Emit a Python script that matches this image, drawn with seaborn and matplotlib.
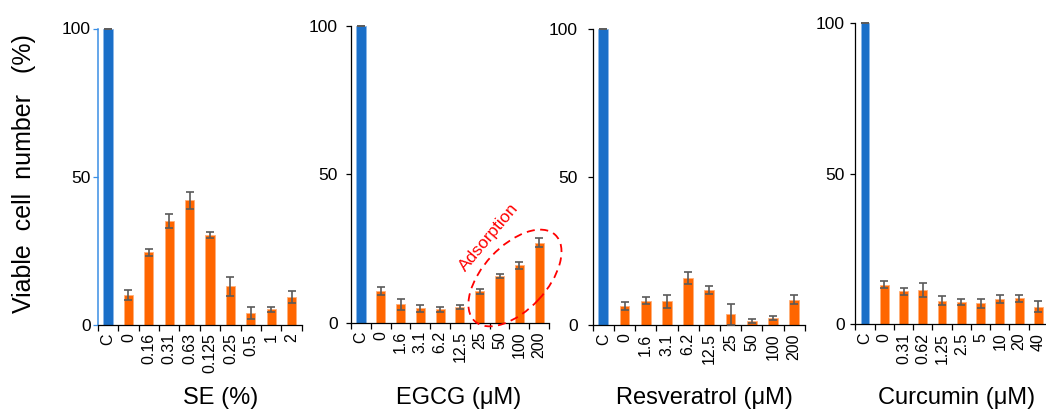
import numpy as np
import matplotlib
matplotlib.use("Agg")
import matplotlib.pyplot as plt
import matplotlib.transforms as mtransforms
from matplotlib.patches import Ellipse
import seaborn as sns

# ---------------- data ----------------
se_labels = ["C", "0", "0.16", "0.31", "0.63", "0.125", "0.25", "0.5", "1", "2"]
se_values = [100, 10.2, 24.6, 35.0, 42.0, 30.5, 13.0, 4.0, 5.3, 9.5]
se_errors = [0, 1.6, 1.2, 2.3, 3.0, 1.0, 3.2, 2.0, 0.8, 2.0]

egcg_labels = ["C", "0", "1.6", "3.1", "6.2", "12.5", "25", "50", "100", "200"]
egcg_values = [100, 10.6, 6.2, 4.8, 4.5, 5.4, 10.6, 15.8, 19.3, 26.9]
egcg_errors = [0, 1.3, 1.9, 1.3, 0.8, 0.7, 0.9, 0.6, 1.3, 1.5]

res_labels = ["C", "0", "1.6", "3.1", "6.2", "12.5", "25", "50", "100", "200"]
res_values = [100, 6.4, 8.2, 8.0, 15.9, 11.75, 3.6, 1.35, 2.35, 8.6]
res_errors = [0, 1.3, 1.1, 2.1, 2.1, 1.35, 3.6, 0.75, 0.65, 1.5]

cur_labels = ["C", "0", "0.31", "0.62", "1.25", "2.5", "5", "10", "20", "40"]
cur_values = [100, 13.2, 10.9, 11.5, 7.9, 7.5, 7.0, 8.4, 8.6, 5.8]
cur_errors = [0, 1.3, 1.2, 2.3, 1.45, 1.05, 1.45, 1.2, 1.05, 1.8]

x_titles = ["SE (%)", "EGCG (\u03bcM)", "Resveratrol (\u03bcM)", "Curcumin (\u03bcM)"]
y_title = "Viable  cell  number   (%)"
y_ticks = [0, 50, 100]
annotation_text = "Adsorption"

# ---------------- style ----------------
sns.set_style("ticks")
plt.rcParams["font.family"] = ["Liberation Sans", "DejaVu Sans"]
plt.rcParams.update({
    "text.color": "black",
    "axes.labelcolor": "black",
    "xtick.color": "black",
    "ytick.color": "black",
    "axes.edgecolor": "black",
    "axes.linewidth": 0.9,
})

BLUE = "#1a6fc8"
ORANGE = "#ff6600"
ERR = "#5a5a5a"

W, H = 1046, 409
fig = plt.figure(figsize=(W / 100, H / 100), dpi=100)

# axes boxes in pixels: left, top(y=100), right, bottom(y=0)
boxes = [
    (97.8, 28.5, 301.8, 325.0),
    (351.1, 26.0, 549.0, 322.7),
    (592.7, 29.3, 804.7, 325.0),
    (855.4, 23.3, 1048.0, 324.3),
]
ypads = [1.5, 6.0, 7.0, 4.0]
title_x = [221, 459, 704, 957]

panels = [
    (se_labels, se_values, se_errors),
    (egcg_labels, egcg_values, egcg_errors),
    (res_labels, res_values, res_errors),
    (cur_labels, cur_values, cur_errors),
]

axes = []
for i, ((labels, values, errors), (l, t, r, b)) in enumerate(zip(panels, boxes)):
    ax = fig.add_axes([l / W, 1 - b / H, (r - l) / W, (b - t) / H])
    axes.append(ax)
    colors = [BLUE] + [ORANGE] * (len(labels) - 1)
    sns.barplot(x=labels, y=values, hue=labels, palette=colors, legend=False,
                width=0.46, saturation=1, errorbar=None, ax=ax)
    for p, c in zip(ax.patches, colors):
        p.set_edgecolor("#ffb07a" if c == ORANGE else "#8ab8ea")
        p.set_linewidth(0.6)
    eb = ax.errorbar(np.arange(len(labels)), values, yerr=errors, fmt="none",
                     ecolor=ERR, elinewidth=1.2, capsize=3.0, capthick=1.2, zorder=5)
    for art in list(eb.lines[1]) + list(eb.lines[2]):
        art.set_clip_on(False)

    ax.set_xlim(-0.5, len(labels) - 0.5)
    ax.set_ylim(0, 100)
    ax.set_xlabel("")
    ax.set_ylabel("")
    sns.despine(ax=ax)

    ax.set_xticks(np.arange(len(labels)))
    ax.set_xticklabels(labels, rotation=90)
    ax.set_xticks(np.arange(-0.5, len(labels), 1.0), minor=True)
    ax.tick_params(axis="x", which="major", length=0, pad=6, labelsize=11.5)
    ax.tick_params(axis="x", which="minor", length=4, width=0.9, direction="out")

    ax.set_yticks(y_ticks)
    ax.set_yticklabels([str(v) for v in y_ticks])
    ax.tick_params(axis="y", which="major", length=3.5, width=0.9, direction="out",
                   pad=ypads[i], labelsize=12.5)
    ax.tick_params(axis="y", which="minor", length=0)

    fig.text(title_x[i] / W, 1 - 404 / H, x_titles[i], ha="center", va="baseline",
             fontsize=17)

# first panel: light-blue y axis
axes[0].spines["left"].set_color("#3a8ee4")
axes[0].spines["left"].set_linewidth(1.1)
axes[0].tick_params(axis="y", color="#3a8ee4", labelcolor="black")

# y-axis title
fig.text(24 / W, 1 - 173.5 / H, y_title, rotation=90, ha="center", va="center",
         fontsize=18)

# annotation on EGCG panel
ax2 = axes[1]
ax2.text(6.49, 28.7, annotation_text, rotation=50, ha="center", va="center",
         rotation_mode="anchor", color="red", fontsize=12.5, zorder=6)
ell = Ellipse((0, 0), 118, 64, angle=47,
              transform=mtransforms.ScaledTranslation(7.78, 15.07, ax2.transData),
              fill=False, edgecolor="red", linewidth=1.3, linestyle=(0, (4.5, 3)),
              clip_on=False, zorder=6)
ax2.add_artist(ell)

fig.savefig("out.png", dpi=100)
